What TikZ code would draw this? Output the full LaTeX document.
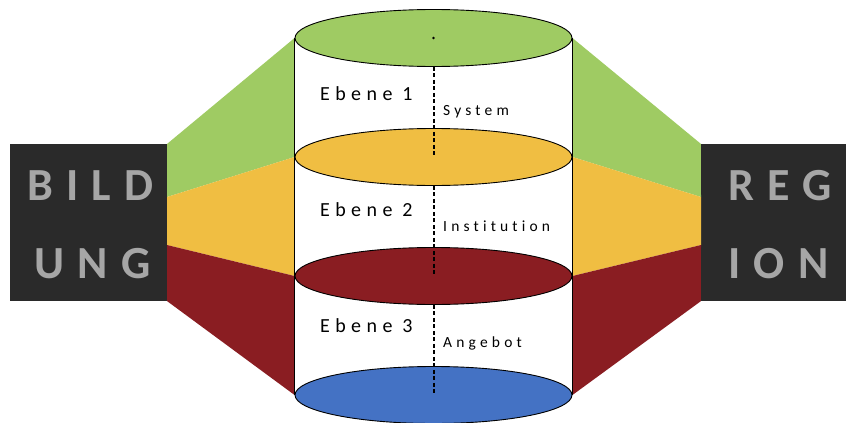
\documentclass[tikz,border=0pt]{standalone}
\usepackage{fontspec}
\setmainfont{Carlito}
\newfontfamily\levelfont[LetterSpace=27,Ligatures={NoCommon,NoRare,NoContextual}]{Carlito}
\newfontfamily\blockfont[LetterSpace=29,Ligatures={NoCommon,NoRare,NoContextual}]{Carlito}
\usetikzlibrary{shapes.geometric}
\definecolor{lvlgreen}{HTML}{9FCB63}
\definecolor{lvlyellow}{HTML}{F0BE42}
\definecolor{lvlred}{HTML}{8A1D22}
\definecolor{lvlblue}{HTML}{4472C4}
\definecolor{blockgray}{HTML}{2A2A2A}
\definecolor{lettergray}{HTML}{A6A6A6}
\def\discsep{119}

\begin{document}
\begin{tikzpicture}[x=1pt,y=-1pt]
    \tikzstyle{disc}=[ellipse,draw=black,line width=0.9pt,minimum width=277pt,minimum height=57pt,inner sep=0pt]
    \tikzstyle{block}=[fill=blockgray,minimum size=157pt,inner sep=0pt]
    \tikzstyle{letters}=[text=lettergray,font=\blockfont\bfseries\fontsize{46}{46}\selectfont,anchor=base west,inner sep=0pt]
    \tikzstyle{level}=[font=\levelfont\fontsize{20}{20}\selectfont,anchor=base west,inner sep=0pt]
    \tikzstyle{layer}=[font=\levelfont\fontsize{15.5}{15.5}\selectfont,anchor=base west,inner sep=0pt]

    \useasboundingbox (0,0) rectangle (846,423);

    % Draw the two blocks
    \node[block] (bild) at (88.5,222.5) {};
    \node[block] (region) at (779.5,222.5) {};
    \coordinate (bl-2) at (167,197);
    \coordinate (bl-3) at (167,245);
    \coordinate (br-2) at (701,197);
    \coordinate (br-3) at (701,245);

    % Draw the discs of the cylinder
    \foreach \name / \col in {1/lvlgreen,2/lvlyellow,3/lvlred,4/lvlblue}
        \node[disc,fill=\col] (D-\name) at (433.5,{38+(\name-1)*\discsep}) {};

    % Fans between the blocks and the cylinder
    \fill[lvlgreen] (bild.north east) -- (D-1.west) -- (D-2.west) -- (bl-2) -- cycle;
    \fill[lvlyellow] (bl-2) -- (D-2.west) -- (D-3.west) -- (bl-3) -- cycle;
    \fill[lvlred] (bl-3) -- (D-3.west) -- (D-4.west) -- (bild.south east) -- cycle;
    \fill[lvlgreen] (region.north west) -- (D-1.east) -- (D-2.east) -- (br-2) -- cycle;
    \fill[lvlyellow] (br-2) -- (D-2.east) -- (D-3.east) -- (br-3) -- cycle;
    \fill[lvlred] (br-3) -- (D-3.east) -- (D-4.east) -- (region.south west) -- cycle;

    % Sides and axis of the cylinder
    \draw[line width=1.1pt] (D-1.west) -- (D-4.west);
    \draw[line width=1.1pt] (D-1.east) -- (D-4.east);
    \fill (D-1.center) circle (1.4pt);
    \foreach \a / \b in {1/2,2/3,3/4}
        \draw[line width=2pt,dash pattern=on 4pt off 2.5pt] (D-\a.south) -- (D-\b.center);

    % Annotate the levels
    \node[level] (E-1) at (320,100) {Ebene 1};
    \node[level] (E-2) at (320,216) {Ebene 2};
    \node[level] (E-3) at (320,332) {Ebene 3};
    \node[layer] (L-1) at (443,115) {System};
    \node[layer] (L-2) at (443,231) {Institution};
    \node[layer] (L-3) at (443,347) {Angebot};

    % Letters on the blocks
    \node[letters] (bild-1) at (27,200) {BILD};
    \node[letters] (bild-2) at (34,278) {UNG};
    \node[letters] (region-1) at (728,200) {REG};
    \node[letters] (region-2) at (728,278) {ION};
\end{tikzpicture}
\end{document}
